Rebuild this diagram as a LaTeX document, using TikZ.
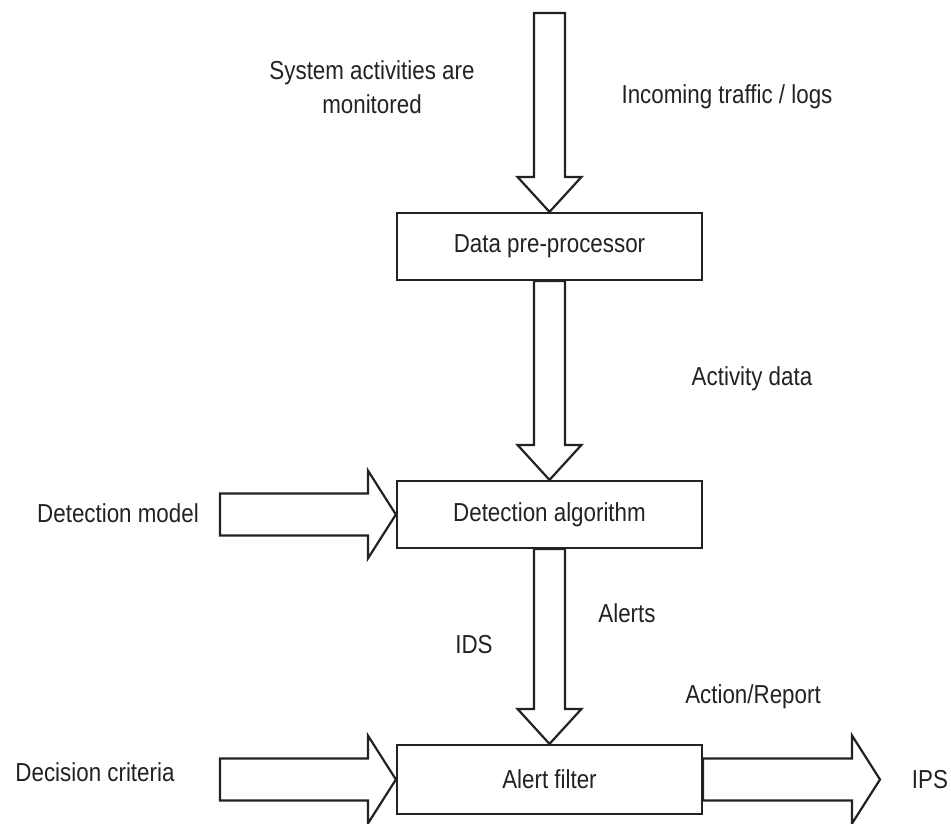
\documentclass[tikz,border=0pt]{standalone}
\usepackage{fontspec}
\setmainfont[FakeStretch=0.86]{Liberation Sans}
\usetikzlibrary{calc}
\definecolor{ink}{HTML}{222222}
\newcommand\downblock[2]{\draw[blk] let \p1=(#1), \p2=(#2) in
  (\x1-15.5pt,\y1) -- (\x1-15.5pt,\y2+35pt) -- (\x1-32pt,\y2+35pt) -- (\x1,\y2)
  -- (\x1+32pt,\y2+35pt) -- (\x1+15.5pt,\y2+35pt) -- (\x1+15.5pt,\y1) -- cycle;}
\newcommand\rightblock[2]{\draw[blk] let \p1=(#1), \p2=(#2) in
  (\x1,\y2+21pt) -- (\x2-28pt,\y2+21pt) -- (\x2-28pt,\y2+44pt) -- (\x2,\y2)
  -- (\x2-28pt,\y2-44pt) -- (\x2-28pt,\y2-21pt) -- (\x1,\y2-21pt) -- cycle;}
\begin{document}
\begin{tikzpicture}[x=1pt,y=-1pt,
  lbl/.style={text=ink,font=\fontsize{26}{34}\selectfont,inner sep=0pt,align=center},
  stage/.style={draw=ink,line width=2.2pt,minimum width=305pt,minimum height=67pt,
    fill=white,text=ink,font=\fontsize{26}{30}\selectfont,inner sep=0pt},
  blk/.style={draw=ink,line width=2.2pt,fill=white,line join=miter}]
\useasboundingbox (0,0) rectangle (951,823);
% boxes
\node[stage] (pre) at (549.5,246.5) {Data pre-processor};
\node[stage] (det) at (549.5,514.5) {Detection algorithm};
\node[stage,minimum height=69pt] (flt) at (549.5,779.5) {Alert filter};
% free ends
\coordinate (src) at (549.5,13);
\coordinate (model) at (220,514.5);
\coordinate (crit) at (220,779.5);
\coordinate (ips) at (880,779.5);
% block arrows
\downblock{src}{pre.north}
\downblock{pre.south}{det.north}
\downblock{det.south}{flt.north}
\rightblock{model}{det.west}
\rightblock{crit}{flt.west}
\rightblock{flt.east}{ips}
% labels
\node[lbl] (l1) at (372,87) {System activities are\\monitored};
\node[lbl] (l2) at (727,97) {Incoming traffic / logs};
\node[lbl] (l3) at (752,379) {Activity data};
\node[lbl] (l4) at (118,513) {Detection model};
\node[lbl] (l5) at (627,613) {Alerts};
\node[lbl] (l6) at (474,645) {IDS};
\node[lbl] (l7) at (753,697) {Action/Report};
\node[lbl] (l8) at (95,772) {Decision criteria};
\node[lbl] (l9) at (930,780) {IPS};
\end{tikzpicture}
\end{document}
